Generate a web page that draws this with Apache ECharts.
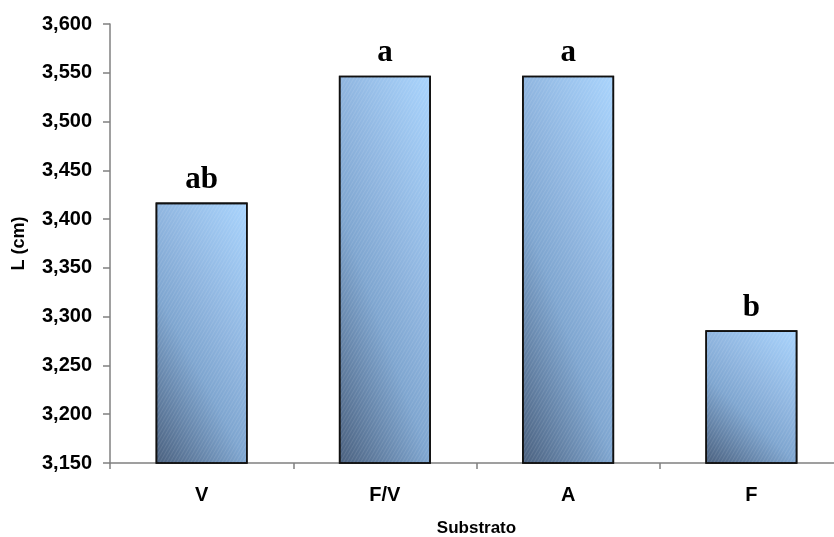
<!DOCTYPE html>
<html>
<head>
<meta charset="utf-8">
<script src="https://cdn.jsdelivr.net/npm/echarts@6/dist/echarts.min.js"></script>
<style>
  html, body { margin: 0; padding: 0; background: #ffffff; }
  #chart { width: 834px; height: 537px; }
</style>
</head>
<body>
<div id="chart"></div>
<script>
// Substrate categories and mean length (cm)
const categories = ['V', 'F/V', 'A', 'F'];
const lengthValues = [3.417, 3.547, 3.547, 3.286];
// Significance letters shown above each bar
const groupLetters = ['ab', 'a', 'a', 'b'];
// Value axis range
const yMin = 3.15;
const yMax = 3.6;
const yStep = 0.05;

// Plot box and bar geometry (pixels); the last category runs past the right edge
const PLOT_LEFT = 110, PLOT_TOP = 24, PLOT_H = 439, PLOT_W = 733;
const BAR_W = 92;

// Diagonal fill from the bottom-left (dark) to the top-right (light) corner.
// The gradient axis is tilted so that the top-left corner lands at offset
// m/(1+m) and the bottom-right corner at 1/(1+m).
function barGradient(value) {
  const h = (value - yMin) / (yMax - yMin) * PLOT_H;
  const w = BAR_W;
  const m = 1.5;
  const den = h * h + w * w * m * m;
  const x2 = h * h * (1 + m) / den;
  const y2 = 1 - w * w * m * (1 + m) / den;
  return new echarts.graphic.LinearGradient(0, 1, x2, y2, [
    { offset: 0, color: '#4a607e' },
    { offset: 0.4, color: '#7fa6d0' },
    { offset: 0.6, color: '#8fb5df' },
    { offset: 1, color: '#a9d4fd' }
  ]);
}

const chart = echarts.init(document.getElementById('chart'), null, { renderer: 'canvas' });

chart.setOption({
  backgroundColor: '#ffffff',
  animation: false,
  grid: {
    left: PLOT_LEFT, top: PLOT_TOP, width: PLOT_W, height: PLOT_H,
    containLabel: false,
    outerBoundsMode: 'none'
  },
  xAxis: {
    type: 'category',
    data: categories,
    name: 'Substrato',
    nameLocation: 'middle',
    nameGap: 57,
    nameTextStyle: { fontFamily: 'Liberation Sans, Arial', fontWeight: 'bold', fontSize: 17, color: '#000' },
    axisLine: { lineStyle: { color: '#808080', width: 1.5 } },
    axisTick: { show: true, length: 6, lineStyle: { color: '#808080', width: 1.5 } },
    axisLabel: { margin: 22, fontFamily: 'Liberation Sans, Arial', fontWeight: 'bold', fontSize: 20, color: '#000' }
  },
  yAxis: {
    type: 'value',
    min: yMin,
    max: yMax,
    interval: yStep,
    name: 'L (cm)',
    nameLocation: 'middle',
    nameGap: 82,
    nameTextStyle: { fontFamily: 'Liberation Sans, Arial', fontWeight: 'bold', fontSize: 18, color: '#000' },
    axisLine: { show: true, lineStyle: { color: '#808080', width: 1.5 } },
    axisTick: { show: true, length: 7, lineStyle: { color: '#808080', width: 1.5 } },
    splitLine: { show: false },
    axisLabel: {
      margin: 18,
      fontFamily: 'Liberation Sans, Arial',
      fontWeight: 'bold',
      fontSize: 20,
      color: '#000',
      formatter: v => v.toFixed(3).replace('.', ',')
    }
  },
  series: [{
    type: 'bar',
    data: lengthValues,
    barWidth: BAR_W,
    itemStyle: {
      color: p => barGradient(p.value),
      borderColor: '#111',
      borderWidth: 1.6,
      decal: {
        symbol: 'rect',
        symbolSize: 1,
        dashArrayX: [1, 0],
        dashArrayY: [1, 2],
        rotation: -Math.PI / 3,
        color: 'rgba(255,255,255,0.10)'
      }
    },
    label: {
      show: true,
      position: 'top',
      distance: 7,
      fontFamily: 'Liberation Serif, Times New Roman',
      fontWeight: 'bold',
      fontSize: 31,
      color: '#000',
      formatter: p => groupLetters[p.dataIndex]
    }
  }]
});
</script>
</body>
</html>
